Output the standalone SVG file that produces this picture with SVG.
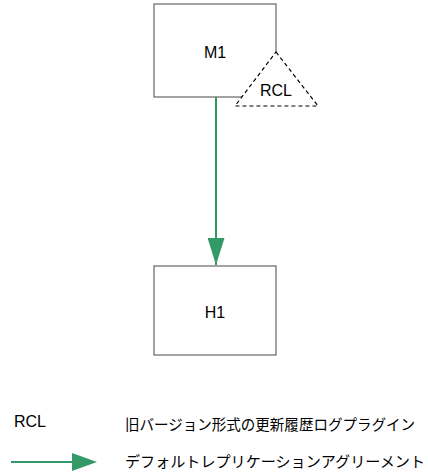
<svg xmlns="http://www.w3.org/2000/svg" width="428" height="473" viewBox="0 0 428 473">
<style>
.box{fill:#fff;stroke:#666;stroke-width:1.2}
.lbl{font-family:"Liberation Sans",Arial,sans-serif;font-size:16px;fill:#000}
.jp{font-family:"Noto Sans CJK JP","Liberation Sans",sans-serif;font-size:15px;fill:#000}
.edge{stroke:#339966;stroke-width:2;fill:none}
.head{fill:#339966}
</style>
<defs>
<marker id="ah" markerWidth="27" markerHeight="17" refX="27" refY="8.5" orient="auto" markerUnits="userSpaceOnUse" viewBox="0 0 27 17">
<path d="M0,0 L27,8.5 L0,17 Z" class="head"/>
</marker>
</defs>
<rect width="428" height="473" fill="#fff"/>
<g id="M1">
<rect class="box" x="154" y="4" width="122" height="93"/>
<text class="lbl" x="215" y="58" text-anchor="middle">M1</text>
</g>
<g id="RCL">
<polygon points="276,52 318,106 235,106" fill="#fff" stroke="#000" stroke-width="1.2" stroke-dasharray="4,3"/>
<text class="lbl" x="276" y="96" text-anchor="middle">RCL</text>
</g>
<g id="H1">
<rect class="box" x="154" y="266" width="122" height="89"/>
<text class="lbl" x="215" y="318" text-anchor="middle">H1</text>
</g>
<g id="connectors">
<line class="edge" x1="216" y1="97" x2="216" y2="265" marker-end="url(#ah)"/>
</g>
<g id="legend">
<text class="lbl" x="14" y="427">RCL</text>
<text class="jp" x="125" y="430" textLength="290" lengthAdjust="spacingAndGlyphs">旧バージョン形式の更新履歴ログプラグイン</text>
<line class="edge" x1="11" y1="462" x2="74" y2="462"/>
<polygon class="head" points="72,453 97,462 72,471"/>
<text class="jp" x="125" y="467" textLength="300" lengthAdjust="spacingAndGlyphs">デフォルトレプリケーションアグリーメント</text>
</g>
</svg>
